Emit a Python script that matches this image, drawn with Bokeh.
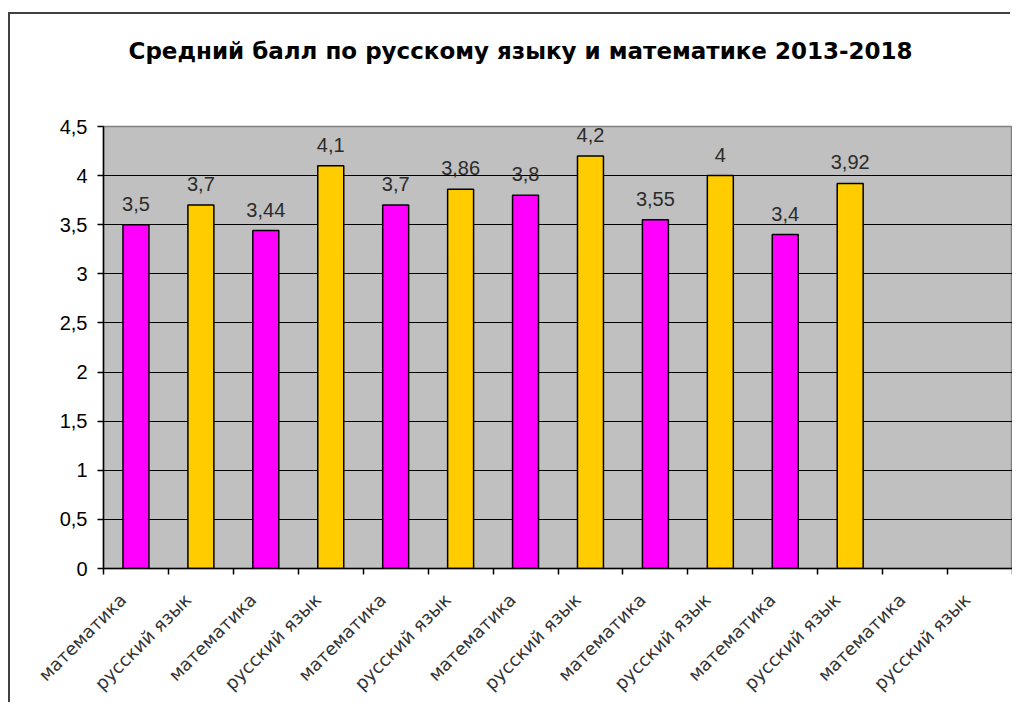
import math
from bokeh.plotting import figure
from bokeh.models import (Range1d, FixedTicker, LabelSet, ColumnDataSource,
                          CustomJSTickFormatter, Title)
from bokeh.core.properties import value
from bokeh.embed import file_html
from bokeh.resources import INLINE

# ---- data ----
categories = ["математика", "русский язык"] * 7
values = [3.5, 3.7, 3.44, 4.1, 3.7, 3.86, 3.8, 4.2, 3.55, 4.0, 3.4, 3.92, None, None]
value_labels = ["3,5", "3,7", "3,44", "4,1", "3,7", "3,86", "3,8", "4,2",
                "3,55", "4", "3,4", "3,92", "", ""]
y_ticks = [0, 0.5, 1, 1.5, 2, 2.5, 3, 3.5, 4, 4.5]
title_text = "Средний балл по русскому языку и математике  2013-2018"
subject_colors = {"математика": "#FF00FF", "русский язык": "#FFCC00"}

idx = [i for i, v in enumerate(values) if v is not None]
src = ColumnDataSource(dict(
    x=idx,
    top=[values[i] for i in idx],
    color=[subject_colors[categories[i]] for i in idx],
    label=[value_labels[i] for i in idx],
))

W, H = 1002, 690
p = figure(width=W, height=H, output_backend="svg", toolbar_location=None,
           x_range=Range1d(-0.5, len(categories) - 0.5),
           y_range=Range1d(0, 4.5),
           min_border_left=93, min_border_top=112, min_border_right=0,
           min_border_bottom=135)
p.margin = (14, 0, 0, 10)
# outer chart frame (left and top edges only; the rest is cut off in the original)
p.styles = {"box-shadow": "-2px -2px 0px 0px #404040"}
p.background_fill_color = "#C0C0C0"
p.border_fill_color = "white"
p.outline_line_color = "#808080"
p.outline_line_width = 1.5

# spacer between title and plot area
p.add_layout(Title(text=" ", text_font_size="10px", standoff=50), "above")

# title
p.title.text = title_text
p.title.align = "left"
p.title.offset = 25
p.title.vertical_align = "bottom"
p.title.standoff = 0
p.title.text_font = "DejaVu Sans"
p.title.text_font_style = "bold"
p.title.text_font_size = "23px"
p.title.text_color = "black"

# grid
p.xgrid.grid_line_color = None
p.ygrid.ticker = FixedTicker(ticks=y_ticks)
p.ygrid.grid_line_color = "black"
p.ygrid.grid_line_width = 1.2

# bars
p.vbar(x="x", top="top", width=0.4, bottom=0, source=src,
       fill_color="color", line_color="black", line_width=1.5)

# value labels
p.add_layout(LabelSet(x="x", y="top", text="label", source=src,
                      text_align="center", text_baseline="bottom",
                      y_offset=14, text_font=value("Liberation Sans"),
                      text_font_size=value("20px"), text_color="#2b2b2b"))

# x axis: boundaries as visible (minor) ticks, labels anchored slightly left of centre
label_pos = [i - 0.2 for i in range(len(categories))]
xa = p.xaxis[0]
xa.ticker = FixedTicker(ticks=label_pos,
                        minor_ticks=[i - 0.5 for i in range(len(categories) + 1)])
xa.major_label_overrides = {pos: c for pos, c in zip(label_pos, categories)}
xa.major_label_orientation = math.pi / 4
xa.major_tick_line_color = None
xa.major_tick_out = 0
xa.major_tick_in = 0
xa.minor_tick_line_color = "black"
xa.minor_tick_line_width = 1.5
xa.minor_tick_out = 6
xa.minor_tick_in = 0
xa.axis_line_color = "black"
xa.axis_line_width = 1.5
xa.major_label_standoff = 22
xa.major_label_text_font = "DejaVu Sans"
xa.major_label_text_font_size = "18px"
xa.major_label_text_color = "#333333"

# y axis
ya = p.yaxis[0]
ya.ticker = FixedTicker(ticks=y_ticks)
ya.formatter = CustomJSTickFormatter(code="return tick.toString().replace('.', ',');")
ya.minor_tick_line_color = None
ya.major_tick_out = 6
ya.major_tick_in = 0
ya.major_tick_line_width = 1.5
ya.axis_line_color = "black"
ya.axis_line_width = 1.5
ya.major_label_standoff = 10
ya.major_label_text_font = "Liberation Sans"
ya.major_label_text_font_size = "20px"
ya.major_label_text_color = "black"

open("out.html", "w").write(file_html(p, INLINE))
